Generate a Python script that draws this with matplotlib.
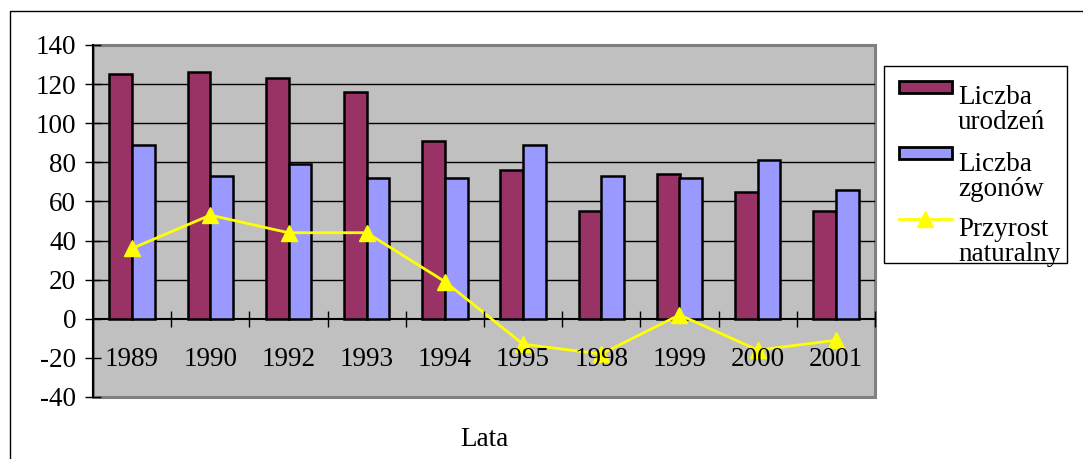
import matplotlib.pyplot as plt
from matplotlib.patches import Rectangle
from matplotlib.lines import Line2D

plt.rcParams["axes.unicode_minus"] = False

years = ["1989", "1990", "1992", "1993", "1994", "1995", "1998", "1999", "2000", "2001"]
urodzenia = [125, 126, 123, 116, 91, 76, 55, 74, 65, 55]
zgony = [89, 73, 79, 72, 72, 89, 73, 72, 81, 66]
przyrost = [36, 53, 44, 44, 19, -13, -18, 2, -16, -11]
labels = ["Liczba\nurodzeń", "Liczba\nzgonów", "Przyrost\nnaturalny"]

maroon = "#993366"
blue = "#9999FF"
yellow = "#FFFF00"
serif = "Liberation Serif"
fs = 19.5

W, H = 1083, 459
fig = plt.figure(figsize=(W / 100, H / 100), dpi=100)
ax = fig.add_axes([93 / W, 1 - 397 / H, (875 - 93) / W, (397 - 45) / H])
ax.set_facecolor("#C0C0C0")

x = list(range(len(years)))
bw = 0.29
ax.bar([i - bw / 2 for i in x], urodzenia, bw, color=maroon, edgecolor="black", linewidth=1.8, zorder=3)
ax.bar([i + bw / 2 for i in x], zgony, bw, color=blue, edgecolor="black", linewidth=1.8, zorder=3)
ax.plot(x, przyrost, color=yellow, linewidth=2, marker="^", markersize=11, zorder=4)

ax.set_xlim(-0.5, len(years) - 0.5)
ax.set_ylim(-40, 140)
yt = list(range(-40, 141, 20))
ax.set_yticks(yt)
# gridlines only above the zero line, as in the original
ax.hlines([v for v in yt if 0 < v < 140], -0.5, len(years) - 0.5, color="black", linewidth=1, zorder=1.5)

# x axis sits on zero, ticks between categories, labels under it
ax.spines["bottom"].set_position(("data", 0))
ax.spines["bottom"].set_linewidth(1.5)
ax.spines["bottom"].set_zorder(2.5)
ax.spines["left"].set_linewidth(1.5)
ax.spines["top"].set_visible(False)
ax.spines["right"].set_visible(False)
ax.set_xticks([i + 0.5 for i in x])
ax.set_xticklabels([])
ax.tick_params(axis="x", which="major", direction="inout", length=12, width=1)
ax.set_xticks(x, minor=True)
ax.set_xticklabels(years, minor=True, fontfamily=serif, fontsize=fs)
ax.tick_params(axis="x", which="minor", length=0, pad=20)
ax.xaxis.set_zorder(5)
ax.tick_params(axis="y", direction="inout", length=12, width=1, pad=6)
for t in ax.get_yticklabels():
    t.set_fontfamily(serif)
    t.set_fontsize(fs)

# gray frame of the plot area
ax.add_patch(Rectangle((0, 0), 1, 1, transform=ax.transAxes, fill=False,
                       edgecolor="#808080", linewidth=2.2, zorder=1, clip_on=False))

ax.set_xlabel("Lata", fontfamily=serif, fontsize=fs, va="top")
ax.xaxis.set_label_coords(0.5, -0.085)

# outer chart frame
fig.patches.append(Rectangle((10 / W, -0.2), 1.2, 1.2 - 11 / H, transform=fig.transFigure,
                             fill=False, edgecolor="black", linewidth=1))

# legend box
fig.patches.append(Rectangle((884 / W, 1 - 263 / H), (1067 - 884) / W, (263 - 66) / H,
                             transform=fig.transFigure, facecolor="white",
                             edgecolor="black", linewidth=1))
handle_tops = [81, 147]
for k, col in enumerate([maroon, blue]):
    fig.patches.append(Rectangle((899 / W, 1 - (handle_tops[k] + 12) / H), 53 / W, 12 / H,
                                 transform=fig.transFigure, facecolor=col,
                                 edgecolor="black", linewidth=2))
fig.lines.append(Line2D([899 / W, 925.5 / W, 952 / W], [1 - 219 / H] * 3, transform=fig.transFigure,
                        color=yellow, linewidth=2, marker="^", markersize=11, markevery=[1]))
text_tops = [85, 152, 217]
for k, lab in enumerate(labels):
    fig.text(958 / W, 1 - text_tops[k] / H, lab, fontfamily=serif, fontsize=fs,
             va="top", ha="left", linespacing=0.98)

fig.savefig("out.png", dpi=100)
